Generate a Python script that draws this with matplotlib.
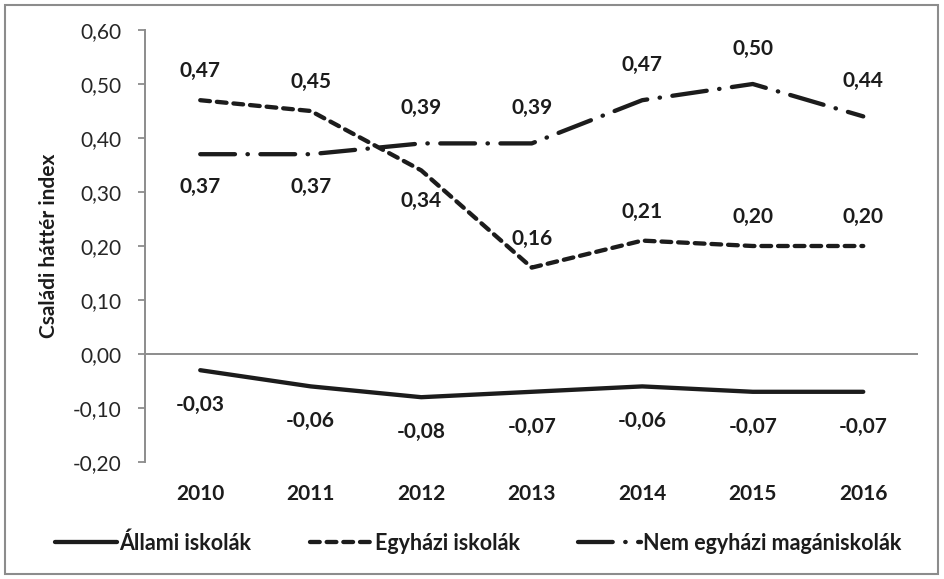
import matplotlib
matplotlib.use("Agg")
import matplotlib.pyplot as plt
from matplotlib.patches import Rectangle

plt.rcParams['font.family'] = ['Lato', 'DejaVu Sans']
plt.rcParams['lines.scale_dashes'] = False

years = ['2010', '2011', '2012', '2013', '2014', '2015', '2016']
allami = [-0.03, -0.06, -0.08, -0.07, -0.06, -0.07, -0.07]
egyhazi = [0.47, 0.45, 0.34, 0.16, 0.21, 0.20, 0.20]
nem_egyhazi = [0.37, 0.37, 0.39, 0.39, 0.47, 0.50, 0.44]
series_names = ['Állami iskolák', 'Egyházi iskolák', 'Nem egyházi magániskolák']
y_ticks = [-0.20, -0.10, 0.00, 0.10, 0.20, 0.30, 0.40, 0.50, 0.60]

# label placement: +1 above, -1 below
egyhazi_pos = [1, 1, -1, 1, 1, 1, 1]
nem_pos = [-1, -1, 1, 1, 1, 1, 1]
allami_pos = [-1] * 7

fig = plt.figure(figsize=(9.45, 5.79), dpi=100)
ax = fig.add_axes([145/945, 1-462/579, (918.5-145)/945, (462-30)/579])

x = list(range(len(years)))
lw = 3.1
ink = '#1c1c1c'
ax.plot(x, allami, color=ink, lw=lw, solid_capstyle='round', solid_joinstyle='round', label=series_names[0])
ax.plot(x, egyhazi, color=ink, lw=lw, dashes=(7, 5), dash_capstyle='round', label=series_names[1])
ax.plot(x, nem_egyhazi, color=ink, lw=lw, dashes=(25, 9, 0.3, 9), dash_capstyle='round', label=series_names[2])

def fmt(v):
    return f"{v:.2f}".replace('.', ',')

fs = 15

def add_labels(vals, pos, up=30, down=33):
    for xi, v, p in zip(x, vals, pos):
        off = up if p > 0 else -down
        ax.annotate(fmt(v), (xi, v), xytext=(0, off), textcoords='offset pixels',
                    ha='center', va='center', fontsize=fs, fontweight='bold', color=ink)

add_labels(egyhazi, egyhazi_pos, up=29, down=31)
add_labels(nem_egyhazi, nem_pos, up=35, down=33)
add_labels(allami, allami_pos, up=30, down=35)

ax.set_xlim(-0.5, len(years) - 0.5)
ax.set_ylim(-0.2, 0.6)
ax.set_yticks(y_ticks)
ax.set_yticklabels([fmt(v) for v in y_ticks], fontsize=fs, color='#262626')
ax.set_xticks(x)
ax.set_xticklabels(years, fontsize=fs, fontweight='bold', color=ink)
ax.tick_params(axis='x', length=0, pad=16)
ax.tick_params(axis='y', length=5, width=1.3, color='#8c8c8c', direction='out', pad=12)
for s in ['top', 'right', 'bottom']:
    ax.spines[s].set_visible(False)
ax.spines['left'].set_color('#8c8c8c')
ax.spines['left'].set_linewidth(1.4)
ax.axhline(0, color='#8c8c8c', lw=1.4, zorder=1)
ax.set_ylabel('Családi háttér index', fontsize=fs, fontweight='bold', color=ink, labelpad=10)

leg = fig.legend(loc='center', bbox_to_anchor=(46/945, 1-563/579, (910-46)/945, 40/579),
                 mode='expand', ncol=3, frameon=False, borderaxespad=0,
                 handlelength=2.9, handletextpad=0.1, columnspacing=1.0,
                 prop={'weight': 'bold', 'size': 15.5})
for t in leg.get_texts():
    t.set_color(ink)

fig.patches.append(Rectangle((5/945, 5/579), 933/945, 569/579, transform=fig.transFigure,
                             fill=False, edgecolor='#8c8c8c', lw=1.5))

fig.savefig('out.png', dpi=100)
